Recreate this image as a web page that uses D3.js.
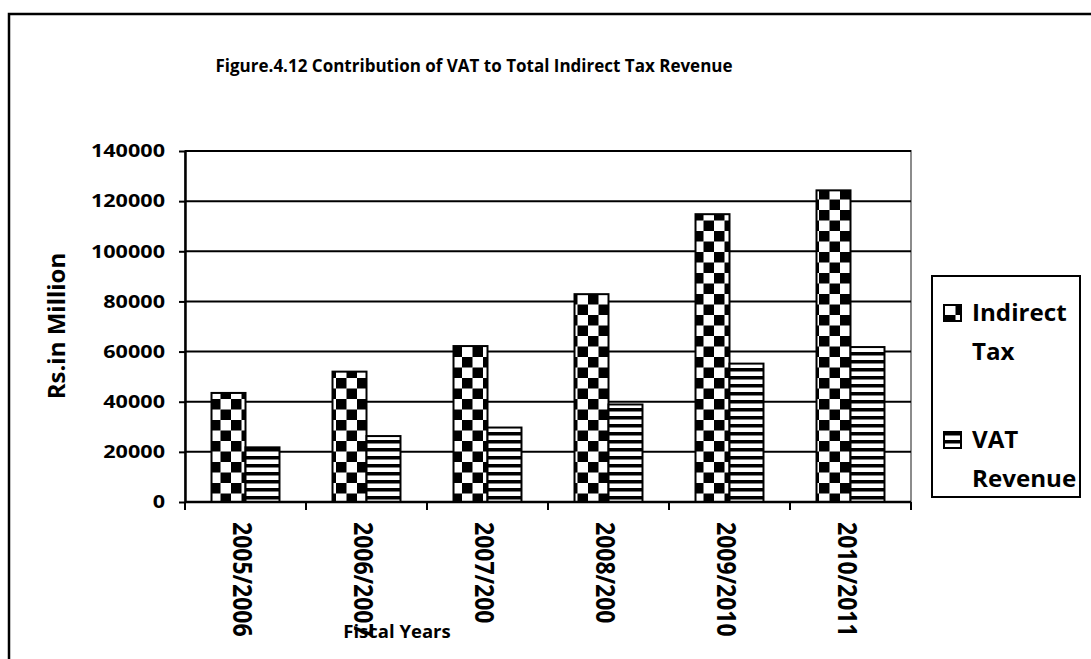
<!DOCTYPE html>
<html>
<head>
<meta charset="utf-8">
<script src="https://cdn.jsdelivr.net/npm/d3@7"></script>
<style>
  html, body { margin: 0; padding: 0; background: #fff; }
  svg { display: block; }
  text { font-family: "Open Sans", "DejaVu Sans", sans-serif; font-weight: 700; fill: #000; }
</style>
</head>
<body>
<svg id="chart" width="1091" height="659"></svg>
<script>
// ---- data ----
const categories = ["2005/2006", "2006/2007", "2007/200", "2008/200", "2009/2010", "2010/2011"];
const seriesNames = ["Indirect Tax", "VAT Revenue"];
const indirectTax = [43500, 52000, 62200, 82900, 114800, 124300];
const vatRevenue = [21800, 26300, 29700, 38900, 55200, 61800];
const yTicks = [0, 20000, 40000, 60000, 80000, 100000, 120000, 140000];
const titleText = "Figure.4.12 Contribution of VAT to Total Indirect Tax Revenue";
const yTitle = "Rs.in Million";
const xTitle = "Fiscal Years";
const legendLines = [["Indirect", "Tax"], ["VAT", "Revenue"]];

const svg = d3.select("#chart");
const W = 1091, H = 659;
const plot = { left: 185, right: 911, top: 151, bottom: 502 };

// patterns
const defs = svg.append("defs");
const chk = defs.append("pattern").attr("id", "checker")
  .attr("patternUnits", "userSpaceOnUse").attr("width", 21).attr("height", 21);
chk.append("rect").attr("width", 21).attr("height", 21).attr("fill", "#fff");
chk.append("rect").attr("x", 0).attr("y", 0).attr("width", 10.5).attr("height", 10.5).attr("fill", "#000");
chk.append("rect").attr("x", 10.5).attr("y", 10.5).attr("width", 10.5).attr("height", 10.5).attr("fill", "#000");

const str = defs.append("pattern").attr("id", "stripes")
  .attr("patternUnits", "userSpaceOnUse").attr("width", 8).attr("height", 8);
str.append("rect").attr("width", 8).attr("height", 8).attr("fill", "#fff");
str.append("rect").attr("x", 0).attr("y", 0).attr("width", 8).attr("height", 3.5).attr("fill", "#000");

const fills = ["url(#checker)", "url(#stripes)"];

// background + outer frame
svg.append("rect").attr("width", W).attr("height", H).attr("fill", "#fff");
svg.append("rect").attr("x", 9).attr("y", 14).attr("width", 1120).attr("height", 700)
  .attr("fill", "none").attr("stroke", "#000").attr("stroke-width", 2.5);

// scales
const x0 = d3.scaleBand().domain(categories).range([plot.left, plot.right]).paddingInner(0).paddingOuter(0);
const x1 = d3.scaleBand().domain(seriesNames).range([0, x0.bandwidth()]).paddingInner(0).paddingOuter(0.78);
const y = d3.scaleLinear().domain([0, 140000]).range([plot.bottom, plot.top]);

// plot area border (grey)
svg.append("rect").attr("x", plot.left).attr("y", plot.top)
  .attr("width", plot.right - plot.left).attr("height", plot.bottom - plot.top)
  .attr("fill", "none").attr("stroke", "#8c8c8c").attr("stroke-width", 2);

// gridlines
svg.append("g").selectAll("line").data(yTicks.filter(d => d > 0)).join("line")
  .attr("x1", plot.left).attr("x2", plot.right)
  .attr("y1", d => y(d)).attr("y2", d => y(d))
  .attr("stroke", "#000").attr("stroke-width", 2);

// bars
const rows = categories.map((c, i) => ({ cat: c, vals: [indirectTax[i], vatRevenue[i]] }));
const gBars = svg.append("g");
rows.forEach(r => {
  r.vals.forEach((v, j) => {
    gBars.append("rect")
      .attr("x", x0(r.cat) + x1(seriesNames[j]))
      .attr("y", y(v))
      .attr("width", x1.bandwidth())
      .attr("height", y(0) - y(v))
      .attr("fill", fills[j])
      .attr("stroke", "#000").attr("stroke-width", 2);
  });
});

// y axis
const yAxis = svg.append("g").attr("transform", `translate(${plot.left},0)`)
  .call(d3.axisLeft(y).tickValues(yTicks).tickSize(6).tickSizeOuter(0).tickFormat(d3.format("d")));
yAxis.select(".domain").attr("stroke", "#000").attr("stroke-width", 2.5);
yAxis.selectAll(".tick line").attr("stroke", "#000").attr("stroke-width", 2);
yAxis.selectAll(".tick text")
  .attr("x", null)
  .attr("transform", "translate(-20,0) scale(1.2,1)")
  .style("font-family", "'Open Sans'").style("font-weight", "700").style("font-size", "18px")
  .attr("fill", "#000");

// x axis line and boundary ticks
svg.append("line").attr("x1", plot.left).attr("x2", plot.right)
  .attr("y1", plot.bottom).attr("y2", plot.bottom)
  .attr("stroke", "#000").attr("stroke-width", 2.5);
const bounds = categories.map(c => x0(c)).concat([x0.range()[1]]);
svg.append("g").selectAll("line").data(bounds).join("line")
  .attr("x1", d => d).attr("x2", d => d)
  .attr("y1", plot.bottom).attr("y2", plot.bottom + 8)
  .attr("stroke", "#000").attr("stroke-width", 2);

// x labels (rotated)
svg.append("g").selectAll("text").data(categories).join("text")
  .attr("transform", d => `translate(${x0(d) + x0.bandwidth() / 2 - 2},522) scale(1.15,1) rotate(90)`)
  .attr("text-anchor", "start").attr("dominant-baseline", "central")
  .style("font-size", "23px")
  .text(d => d);

// titles
svg.append("text").attr("transform", "translate(474,72)")
  .attr("text-anchor", "middle").style("font-size", "17px").text(titleText);
svg.append("text").attr("transform", "translate(65,326) rotate(-90)")
  .attr("text-anchor", "middle").style("font-size", "24px").text(yTitle);
svg.append("text").attr("transform", "translate(397,638)")
  .attr("text-anchor", "middle").style("font-size", "18.5px").text(xTitle);

// legend
svg.append("rect").attr("x", 932).attr("y", 276).attr("width", 148).attr("height", 221)
  .attr("fill", "#fff").attr("stroke", "#000").attr("stroke-width", 2);
const legTop = [305, 432];
legendLines.forEach((lines, i) => {
  svg.append("rect").attr("x", 944).attr("y", legTop[i]).attr("width", 17).attr("height", 16)
    .attr("fill", fills[i]).attr("stroke", "#000").attr("stroke-width", 2);
  lines.forEach((t, k) => {
    svg.append("text")
      .attr("transform", `translate(972,${legTop[i] + 16 + k * 39}) scale(1.05,1)`)
      .style("font-size", "23px").text(t);
  });
});
</script>
</body>
</html>
